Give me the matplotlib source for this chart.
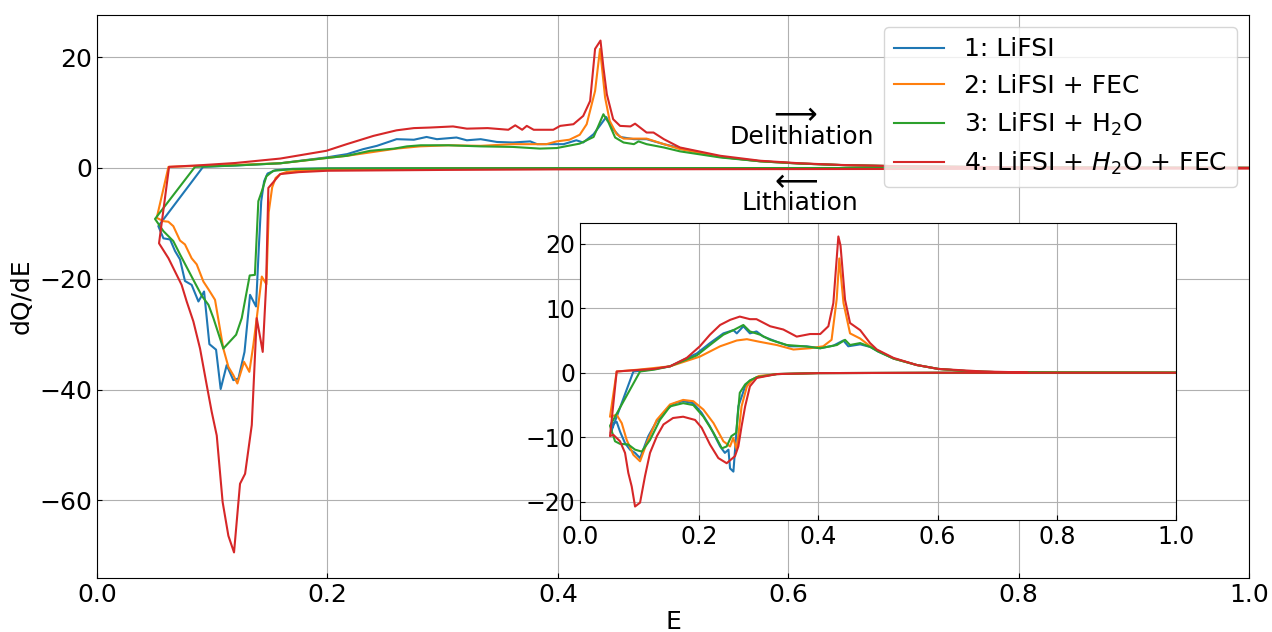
import numpy as np
import matplotlib
matplotlib.use("Agg")
import matplotlib.pyplot as plt

plt.rcParams['font.size'] = 18

labels = ["1: LiFSI", "2: LiFSI + FEC", "3: LiFSI + H$_2$O", "4: LiFSI + $H_2$O + FEC"]
colors = ["tab:blue", "tab:orange", "tab:green", "tab:red"]

# ---- main plot: lithiation (E decreasing) and delithiation (E increasing) ----
E_lith_1 = [1.0, 0.8, 0.6, 0.4, 0.3, 0.2, 0.17, 0.155, 0.148, 0.145, 0.1425, 0.1405, 0.138, 0.1328,
            0.128, 0.1227, 0.1183, 0.1125, 0.1073, 0.1033, 0.0975, 0.0929, 0.088, 0.0821, 0.0763,
            0.072, 0.0677, 0.0634, 0.0576, 0.0532]
Q_lith_1 = [0.0, 0.0, -0.01, -0.02, -0.04, -0.08, -0.15, -0.4, -1.0, -2.4, -6.0, -14.0, -25.0, -22.9,
            -33.2, -38.0, -38.3, -35.6, -39.9, -32.8, -31.8, -22.3, -24.1, -21.1, -20.4,
            -16.5, -15.0, -12.9, -12.7, -10.5]
E_deli_1 = [0.092, 0.12, 0.159, 0.199, 0.217, 0.231, 0.243, 0.26, 0.275, 0.286, 0.295, 0.312, 0.321,
            0.333, 0.347, 0.361, 0.376, 0.382, 0.405, 0.416, 0.422, 0.431, 0.442, 0.448, 0.454,
            0.466, 0.477, 0.492, 0.506, 0.541, 0.576, 0.61, 0.65, 0.7, 0.8, 0.9, 1.0]
Q_deli_1 = [0.2, 0.45, 0.85, 1.9, 2.5, 3.4, 4.0, 5.2, 5.1, 5.6, 5.2, 5.5, 5.0,
            5.2, 4.7, 4.6, 4.8, 4.3, 4.3, 5.0, 4.6, 6.1, 9.2, 7.0, 5.6,
            5.2, 5.2, 4.3, 3.6, 2.0, 1.2, 0.8, 0.5, 0.3, 0.12, 0.05, 0.02]

E_lith_2 = [1.0, 0.8, 0.6, 0.4, 0.3, 0.2, 0.175, 0.165, 0.159, 0.155, 0.152, 0.149, 0.147, 0.143,
            0.1386, 0.1357, 0.1322, 0.1276, 0.1218, 0.1183, 0.114, 0.1096, 0.1024, 0.0967, 0.0923,
            0.0865, 0.0821, 0.0763, 0.072, 0.0662, 0.0619, 0.0576, 0.0518]
Q_lith_2 = [0.0, -0.01, -0.02, -0.05, -0.1, -0.3, -0.5, -0.7, -1.1, -1.8, -3.5, -8.0, -21.0, -19.6,
            -27.1, -31.9, -36.8, -35.0, -38.9, -37.4, -35.9, -32.6, -23.8, -21.9, -20.5,
            -17.4, -16.3, -13.8, -13.1, -10.5, -9.7, -9.6, -9.0]
E_deli_2 = [0.062, 0.09, 0.12, 0.159, 0.199, 0.217, 0.24, 0.26, 0.28, 0.305, 0.333, 0.361, 0.39,
            0.399, 0.41, 0.419, 0.425, 0.4323, 0.4366, 0.441, 0.445, 0.451, 0.457, 0.477, 0.492,
            0.506, 0.541, 0.576, 0.61, 0.65, 0.7, 0.8, 0.9, 1.0]
Q_deli_2 = [0.2, 0.4, 0.55, 0.85, 1.8, 2.2, 2.9, 3.5, 3.9, 4.1, 4.0, 4.3, 4.3,
            4.8, 5.1, 6.0, 7.9, 13.9, 21.5, 12.7, 8.5, 6.1, 5.3, 5.3, 4.3,
            3.4, 2.0, 1.2, 0.8, 0.5, 0.3, 0.12, 0.05, 0.02]

E_lith_3 = [1.0, 0.8, 0.6, 0.4, 0.3, 0.2, 0.17, 0.153, 0.147, 0.143, 0.14, 0.137, 0.1325, 0.1256,
            0.1207, 0.1096, 0.101, 0.0967, 0.091, 0.0836, 0.072, 0.0662, 0.0576, 0.0503]
Q_lith_3 = [0.0, 0.0, -0.01, -0.02, -0.04, -0.08, -0.2, -0.5, -1.5, -4.2, -6.0, -19.3, -19.4, -27.1,
            -30.1, -32.6, -27.1, -24.7, -23.1, -20.2, -15.6, -13.2, -11.4, -9.2]
E_deli_3 = [0.085, 0.12, 0.159, 0.199, 0.217, 0.237, 0.258, 0.269, 0.281, 0.305, 0.333, 0.361, 0.3845,
            0.399, 0.419, 0.431, 0.4395, 0.444, 0.4497, 0.457, 0.466, 0.47, 0.477, 0.492, 0.506,
            0.541, 0.576, 0.61, 0.65, 0.7, 0.8, 0.9, 1.0]
Q_deli_3 = [0.2, 0.45, 0.85, 1.8, 2.2, 3.1, 3.5, 3.9, 4.1, 4.1, 3.9, 3.8, 3.5,
            3.6, 4.4, 5.6, 9.7, 8.2, 5.5, 4.6, 4.3, 4.8, 4.3, 3.7, 3.0,
            1.9, 1.2, 0.8, 0.5, 0.3, 0.12, 0.05, 0.02]

E_lith_4 = [1.0, 0.8, 0.6, 0.4, 0.3, 0.2, 0.175, 0.159, 0.1487, 0.1467, 0.1438, 0.1386, 0.1343,
            0.1285, 0.1241, 0.1189, 0.114, 0.109, 0.1039, 0.0995, 0.0952, 0.0894, 0.0836, 0.0778,
            0.0734, 0.0677, 0.062, 0.0538]
Q_lith_4 = [-0.1, -0.15, -0.2, -0.25, -0.35, -0.5, -0.75, -1.1, -3.6, -21.4, -33.2, -27.1, -46.4,
            -55.2, -57.0, -69.4, -66.4, -60.3, -48.3, -44.0, -39.2, -32.6, -27.7, -24.1,
            -21.1, -18.7, -16.3, -13.6]
E_deli_4 = [0.0625, 0.09, 0.12, 0.159, 0.199, 0.2167, 0.24, 0.26, 0.275, 0.289, 0.309, 0.321, 0.339,
            0.357, 0.363, 0.369, 0.373, 0.379, 0.396, 0.402, 0.4135, 0.422, 0.428, 0.4323, 0.437,
            0.4395, 0.4425, 0.448, 0.454, 0.463, 0.467, 0.477, 0.483, 0.492, 0.506, 0.541, 0.576,
            0.61, 0.645, 0.687, 0.75, 0.85, 1.0]
Q_deli_4 = [0.2, 0.5, 0.9, 1.7, 3.1, 4.3, 5.8, 6.8, 7.2, 7.3, 7.5, 7.1, 7.2,
            6.9, 7.7, 6.9, 7.6, 6.9, 6.9, 7.6, 7.9, 9.4, 12.1, 21.5, 23.0,
            18.2, 13.3, 8.8, 7.6, 7.5, 8.0, 6.4, 6.4, 5.2, 3.7, 2.2, 1.3,
            0.85, 0.55, 0.36, 0.2, 0.08, 0.02]

# ---- inset ----
Ei_lith_1 = [1.0, 0.8, 0.6, 0.4, 0.33, 0.3, 0.285, 0.277, 0.2656, 0.2573, 0.2517, 0.249, 0.243, 0.235,
             0.218, 0.204, 0.19, 0.173, 0.159, 0.145, 0.1286, 0.1146, 0.1007, 0.0923, 0.0839, 0.0755,
             0.0671, 0.0615, 0.0559, 0.0515]
Qi_lith_1 = [0.0, 0.0, 0.0, -0.05, -0.2, -0.6, -1.2, -2.1, -5.2, -15.3, -14.8, -11.9, -12.4, -11.4,
             -8.3, -6.2, -4.7, -4.4, -4.7, -5.7, -7.5, -9.8, -13.2, -12.4, -11.9, -10.9,
             -9.1, -7.6, -7.8, -9.3]
Ei_deli_1 = [0.0895, 0.12, 0.151, 0.196, 0.218, 0.2405, 0.2573, 0.263, 0.274, 0.285, 0.296, 0.3076,
             0.33, 0.3523, 0.38, 0.403, 0.425, 0.4418, 0.45, 0.47, 0.487, 0.5, 0.526, 0.565, 0.601,
             0.65, 0.7, 0.8, 0.9, 1.0]
Qi_deli_1 = [0.2, 0.5, 1.0, 3.0, 4.6, 6.1, 6.6, 6.1, 7.2, 6.1, 6.4, 5.6,
             4.8, 4.1, 4.1, 3.8, 4.2, 5.0, 4.1, 4.4, 4.0, 3.3, 2.2, 1.2, 0.6,
             0.25, 0.1, 0.03, 0.01, 0.0]

Ei_lith_2 = [1.0, 0.8, 0.6, 0.4, 0.33, 0.3, 0.29, 0.28, 0.271, 0.2629, 0.257, 0.2517, 0.2405, 0.224,
             0.207, 0.19, 0.173, 0.151, 0.1286, 0.1118, 0.1007, 0.0895, 0.0783, 0.07, 0.0615, 0.0503]
Qi_lith_2 = [0.0, 0.0, 0.0, -0.05, -0.2, -0.5, -1.0, -2.1, -5.2, -11.9, -10.1, -11.4, -10.6, -7.8,
             -5.7, -4.4, -4.2, -4.9, -7.3, -10.9, -13.7, -12.7, -10.4, -7.8, -6.5, -6.8]
Ei_deli_2 = [0.0615, 0.1, 0.151, 0.201, 0.235, 0.263, 0.28, 0.301, 0.33, 0.358, 0.386, 0.408, 0.422,
             0.4306, 0.435, 0.442, 0.453, 0.47, 0.487, 0.5, 0.526, 0.565, 0.601, 0.65, 0.7, 0.8,
             0.9, 1.0]
Qi_deli_2 = [0.2, 0.5, 1.0, 2.5, 4.1, 5.0, 5.2, 4.8, 4.3, 3.6, 3.8, 4.1, 5.1,
             11.4, 17.7, 10.8, 6.1, 5.3, 4.1, 3.4, 2.2, 1.2, 0.6, 0.25, 0.1, 0.03,
             0.01, 0.0]

Ei_lith_3 = [1.0, 0.8, 0.6, 0.4, 0.33, 0.296, 0.285, 0.277, 0.268, 0.262, 0.254, 0.246, 0.238, 0.224,
             0.207, 0.19, 0.173, 0.151, 0.134, 0.1174, 0.1035, 0.0923, 0.081, 0.067, 0.0587, 0.0503]
Qi_lith_3 = [0.0, 0.0, 0.0, -0.05, -0.2, -0.7, -1.2, -1.8, -3.1, -9.3, -9.8, -11.4, -11.7, -9.3,
             -6.8, -5.0, -4.7, -5.2, -7.3, -10.4, -12.2, -11.9, -11.1, -11.0, -10.6, -8.2]
Ei_deli_3 = [0.1007, 0.125, 0.151, 0.196, 0.218, 0.2405, 0.2573, 0.274, 0.285, 0.302, 0.319, 0.3468,
             0.375, 0.403, 0.431, 0.4446, 0.453, 0.47, 0.487, 0.5, 0.526, 0.565, 0.601, 0.65, 0.7,
             0.8, 0.9, 1.0]
Qi_deli_3 = [0.2, 0.5, 1.0, 2.7, 4.3, 5.9, 6.6, 7.4, 6.4, 5.9, 5.1, 4.3,
             4.1, 3.8, 4.3, 5.1, 4.3, 4.6, 4.0, 3.3, 2.2, 1.2, 0.6, 0.25, 0.1,
             0.03, 0.01, 0.0]

Ei_lith_4 = [1.0, 0.8, 0.6, 0.4, 0.33, 0.2965, 0.285, 0.277, 0.271, 0.2656, 0.26, 0.246, 0.232, 0.218,
             0.204, 0.193, 0.173, 0.156, 0.14, 0.129, 0.1174, 0.109, 0.1007, 0.0923, 0.0867, 0.081,
             0.0755, 0.0671, 0.0559, 0.0503]
Qi_lith_4 = [0.0, 0.0, 0.0, -0.05, -0.2, -0.8, -2.1, -5.2, -8.3, -11.4, -12.9, -14.0, -13.2, -11.1,
             -8.5, -7.3, -6.8, -7.0, -8.0, -9.8, -12.4, -16.0, -20.1, -20.7, -17.6, -15.5,
             -12.4, -10.6, -9.6, -9.8]
Ei_deli_4 = [0.0615, 0.124, 0.151, 0.179, 0.201, 0.218, 0.235, 0.252, 0.268, 0.285, 0.296, 0.319,
             0.341, 0.3635, 0.386, 0.403, 0.4166, 0.425, 0.4334, 0.437, 0.4446, 0.453, 0.47, 0.4866,
             0.498, 0.526, 0.565, 0.601, 0.677, 0.75]
Qi_deli_4 = [0.2, 0.6, 1.0, 2.3, 4.1, 5.9, 7.4, 8.2, 8.7, 8.3, 8.3, 7.2,
             6.7, 5.6, 6.0, 6.0, 7.2, 10.8, 21.1, 19.7, 11.3, 7.7, 6.6, 4.6,
             3.6, 2.3, 1.2, 0.6, 0.2, 0.05]

main = [(E_lith_1, Q_lith_1, E_deli_1, Q_deli_1),
        (E_lith_2, Q_lith_2, E_deli_2, Q_deli_2),
        (E_lith_3, Q_lith_3, E_deli_3, Q_deli_3),
        (E_lith_4, Q_lith_4, E_deli_4, Q_deli_4)]
inset = [(Ei_lith_1, Qi_lith_1, Ei_deli_1, Qi_deli_1),
         (Ei_lith_2, Qi_lith_2, Ei_deli_2, Qi_deli_2),
         (Ei_lith_3, Qi_lith_3, Ei_deli_3, Qi_deli_3),
         (Ei_lith_4, Qi_lith_4, Ei_deli_4, Qi_deli_4)]

fig = plt.figure(figsize=(12.72, 6.32), dpi=100)
ax = fig.add_axes([0.0763, 0.0854, 0.9057, 0.8909])

for (el, ql, ed, qd), lab, c in zip(main, labels, colors):
    ax.plot(el + ed, ql + qd, color=c, label=lab, lw=1.5)

ax.set_xlim(0, 1)
ax.set_xlabel('E', labelpad=2)
ax.set_ylabel('dQ/dE')
ax.grid(True)
ax.tick_params(direction='in')
ax.legend(loc='upper right')

ax.text(0.604, 9.8, r'$\longrightarrow$', ha='center', va='center', fontsize=22)
ax.text(0.612, 5.6, 'Delithiation', ha='center', va='center')
ax.text(0.605, -2.3, r'$\longleftarrow$', ha='center', va='center', fontsize=22)
ax.text(0.61, -6.3, 'Lithiation', ha='center', va='center')

axin = fig.add_axes([0.456, 0.1772, 0.4686, 0.47])
for (el, ql, ed, qd), c in zip(inset, colors):
    axin.plot(el + ed, ql + qd, color=c, lw=1.5)
axin.set_xlim(0, 1)
axin.grid(True)
axin.tick_params(direction='in', labelsize=17)

fig.savefig('out.png', dpi=100)
